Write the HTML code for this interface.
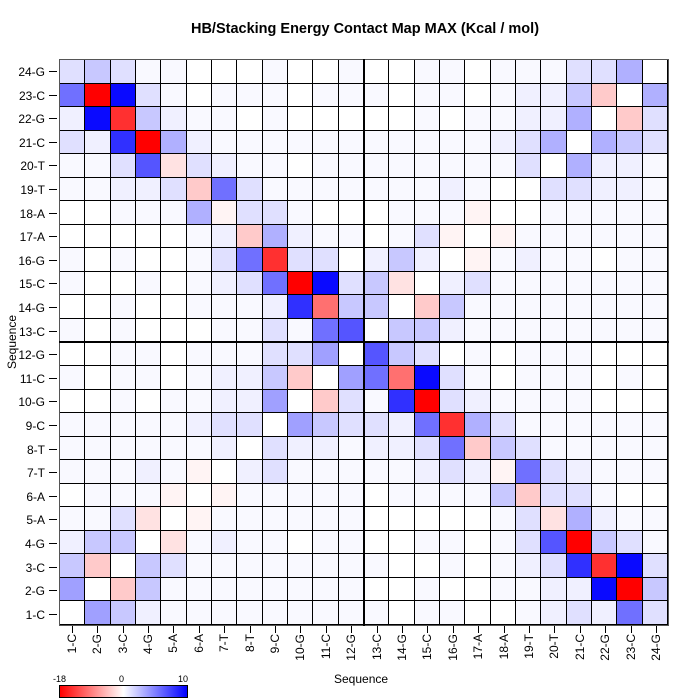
<!DOCTYPE html>
<html><head><style>
body{margin:0;background:#fff;width:700px;height:700px;position:relative;overflow:hidden;font-family:"Liberation Sans",sans-serif}
#g{position:absolute;left:59px;top:59px;width:610px;height:567px;display:grid;grid-template-columns:repeat(24,1fr);grid-template-rows:repeat(24,1fr);border:1px solid #555;box-sizing:border-box}
#g div{border-right:1px solid #000;border-bottom:1px solid #000}
.yl{position:absolute;right:655px;font-size:12px;line-height:12px;text-align:right}
.yt{position:absolute;left:49px;width:8px;height:1px;background:#000}
.xl{position:absolute;top:634px;font-size:12px;line-height:12px;writing-mode:vertical-rl;transform:rotate(180deg);white-space:nowrap}
.xt{position:absolute;top:626px;width:1px;height:7px;background:#000}
</style></head><body>
<div style="position:absolute;top:21px;left:0;width:730px;text-align:center;font-weight:bold;font-size:14.5px">HB/Stacking Energy Contact Map MAX (Kcal / mol)</div>
<div id="g"></div>
<div style="position:absolute;left:363px;top:59px;width:2px;height:567px;background:#000"></div>
<div style="position:absolute;left:59px;top:341px;width:610px;height:2px;background:#000"></div>
<div style="position:absolute;left:-18px;top:335px;transform:rotate(-90deg);font-size:12px;width:60px;text-align:center">Sequence</div>
<div style="position:absolute;left:334px;top:672px;font-size:12px">Sequence</div>
<div style="position:absolute;left:59px;top:685px;width:127px;height:11px;border:1px solid #000;background:linear-gradient(to right,#f00,#fff 50%,#00f)"></div>
<div style="position:absolute;left:53px;top:674px;font-size:9px">-18</div>
<div style="position:absolute;left:119px;top:674px;font-size:9px">0</div>
<div style="position:absolute;left:178px;top:674px;font-size:9px">10</div>
<script>
var P={w:'#fff',a:'#f9f9ff',b:'#f0f0ff',c:'#e0e0ff',d:'#c8c8ff',e:'#b0b0ff',f:'#a0a0ff',g:'#7070ff',h:'#5555ff',i:'#3030ff',j:'#0a0aff',p:'#fff4f4',q:'#ffe2e2',r:'#ffcaca',s:'#ff7070',t:'#ff3030',u:'#ff0000'};
var R=[
"cdcaawwwawwawwaawaaaccew",
"gujcawaaawaaawaawabbdrwe",
"bjtdbaawawwwwwawaabbewrc",
"cbiuebaaaaaaaaaaabcewedc",
"aachqcbaawaaaaaaaacwebba",
"aabbcrgcaaaaaaabawwccbba",
"wwaaaepccawwwaaapwwaaaaa",
"wwwwwabrebaawacpwpaaaaaa",
"awawwacgtccwbdbwpabaawaa",
"awwawabcgujcdqwbcaaaaaaa",
"wwawwaaabisddwrdaaaaaaaa",
"awawwwaacaghwddbaaaaaaaa",
"wwaawaaaccfwhdcwawaaawww",
"awaawabbdrwfgsjcawaaawaw",
"wwawaabbfwrcaiucbaaaawww",
"aaaaabccwfdccbgtecaaaaaa",
"aaaaaabwcbbabbcgrdcaaaaa",
"aaabapwbcaaaaabcbpgcbaaa",
"waaapwpaaaaawaaaadrccaww",
"aacqwpaaaaaawwwwwacqebaa",
"bddwqabaawaawwaawachudca",
"drwdcaaaaaaaawwawabcitjc",
"fwrdaaaaaaaawwawwaabbjud",
"wfdbaaaaaaaaawaawwabcbgc"];
var g=document.getElementById('g'),h='';
for(var r=0;r<24;r++)for(var c=0;c<24;c++)h+='<div style="background:'+P[R[r][c]]+'"></div>';
g.innerHTML=h;
</script>
<div class="yl" style="top:66px">24-G</div><div class="yl" style="top:90px">23-C</div><div class="yl" style="top:113px">22-G</div><div class="yl" style="top:137px">21-C</div><div class="yl" style="top:160px">20-T</div><div class="yl" style="top:184px">19-T</div><div class="yl" style="top:208px">18-A</div><div class="yl" style="top:231px">17-A</div><div class="yl" style="top:255px">16-G</div><div class="yl" style="top:278px">15-C</div><div class="yl" style="top:302px">14-G</div><div class="yl" style="top:326px">13-C</div><div class="yl" style="top:349px">12-G</div><div class="yl" style="top:373px">11-C</div><div class="yl" style="top:396px">10-G</div><div class="yl" style="top:420px">9-C</div><div class="yl" style="top:444px">8-T</div><div class="yl" style="top:467px">7-T</div><div class="yl" style="top:491px">6-A</div><div class="yl" style="top:514px">5-A</div><div class="yl" style="top:538px">4-G</div><div class="yl" style="top:562px">3-C</div><div class="yl" style="top:585px">2-G</div><div class="yl" style="top:609px">1-C</div>
<div class="yt" style="top:71px"></div><div class="yt" style="top:95px"></div><div class="yt" style="top:118px"></div><div class="yt" style="top:142px"></div><div class="yt" style="top:165px"></div><div class="yt" style="top:189px"></div><div class="yt" style="top:213px"></div><div class="yt" style="top:236px"></div><div class="yt" style="top:260px"></div><div class="yt" style="top:283px"></div><div class="yt" style="top:307px"></div><div class="yt" style="top:331px"></div><div class="yt" style="top:354px"></div><div class="yt" style="top:378px"></div><div class="yt" style="top:401px"></div><div class="yt" style="top:425px"></div><div class="yt" style="top:449px"></div><div class="yt" style="top:472px"></div><div class="yt" style="top:496px"></div><div class="yt" style="top:519px"></div><div class="yt" style="top:543px"></div><div class="yt" style="top:567px"></div><div class="yt" style="top:590px"></div><div class="yt" style="top:614px"></div>
<div class="xl" style="left:66px">1-C</div><div class="xl" style="left:91px">2-G</div><div class="xl" style="left:117px">3-C</div><div class="xl" style="left:142px">4-G</div><div class="xl" style="left:167px">5-A</div><div class="xl" style="left:193px">6-A</div><div class="xl" style="left:218px">7-T</div><div class="xl" style="left:244px">8-T</div><div class="xl" style="left:269px">9-C</div><div class="xl" style="left:294px">10-G</div><div class="xl" style="left:320px">11-C</div><div class="xl" style="left:345px">12-G</div><div class="xl" style="left:371px">13-C</div><div class="xl" style="left:396px">14-G</div><div class="xl" style="left:421px">15-C</div><div class="xl" style="left:447px">16-G</div><div class="xl" style="left:472px">17-A</div><div class="xl" style="left:498px">18-A</div><div class="xl" style="left:523px">19-T</div><div class="xl" style="left:548px">20-T</div><div class="xl" style="left:574px">21-C</div><div class="xl" style="left:599px">22-G</div><div class="xl" style="left:625px">23-C</div><div class="xl" style="left:650px">24-G</div>
<div class="xt" style="left:72px"></div><div class="xt" style="left:97px"></div><div class="xt" style="left:123px"></div><div class="xt" style="left:148px"></div><div class="xt" style="left:173px"></div><div class="xt" style="left:199px"></div><div class="xt" style="left:224px"></div><div class="xt" style="left:250px"></div><div class="xt" style="left:275px"></div><div class="xt" style="left:300px"></div><div class="xt" style="left:326px"></div><div class="xt" style="left:351px"></div><div class="xt" style="left:377px"></div><div class="xt" style="left:402px"></div><div class="xt" style="left:427px"></div><div class="xt" style="left:453px"></div><div class="xt" style="left:478px"></div><div class="xt" style="left:504px"></div><div class="xt" style="left:529px"></div><div class="xt" style="left:554px"></div><div class="xt" style="left:580px"></div><div class="xt" style="left:605px"></div><div class="xt" style="left:631px"></div><div class="xt" style="left:656px"></div>
</body></html>
